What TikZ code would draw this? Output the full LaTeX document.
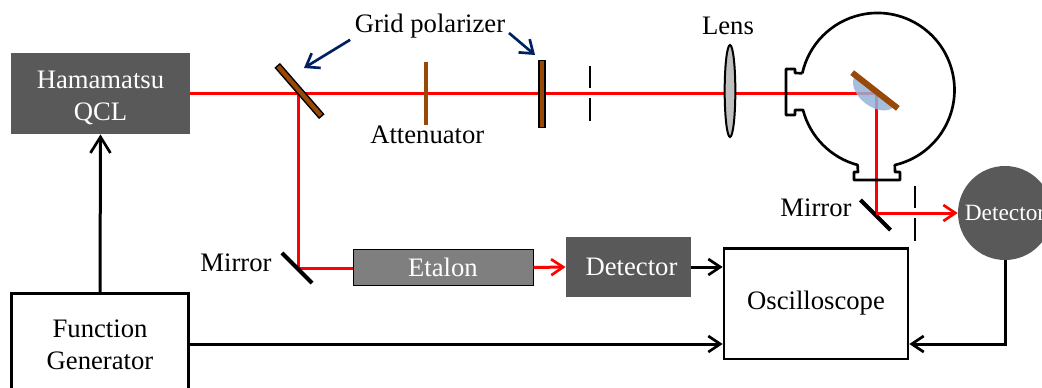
\documentclass[tikz,border=0pt]{standalone}
\usepackage{fontspec}
\setmainfont{Liberation Serif}
\usetikzlibrary{arrows.meta,positioning,shapes.geometric,backgrounds}
\definecolor{darkbox}{HTML}{595959}
\definecolor{midbox}{HTML}{7F7F7F}
\definecolor{brownbar}{HTML}{984807}
\definecolor{navyarrow}{HTML}{002060}
\definecolor{sampleblue}{HTML}{95B3D7}

\begin{document}
\begin{tikzpicture}[
  x=0.75pt, y=0.75pt,
  node distance=6pt,
  font=\fontsize{20}{24}\selectfont,
  solidbox/.style={rectangle, fill=darkbox, text=white, align=center, inner sep=0pt},
  wirebox/.style={rectangle, draw, line width=2pt, fill=white, align=center, inner sep=0pt},
  bar/.style={rectangle, inner sep=0pt, minimum height=#1},
  bar/.default=4.5pt,
  beam/.style={red, line width=2.25pt},
  beamarrow/.style={beam, -{Straight Barb[length=9pt,width=12pt,line width=2pt]}},
  signal/.style={black, line width=2.25pt, -{Straight Barb[length=9pt,width=12pt,line width=2pt]}},
  callout/.style={navyarrow, line width=2pt, -{Straight Barb[length=9pt,width=13pt,line width=2pt]}},
  iris/.style={black, line width=2pt},
]
  \useasboundingbox (0,0) rectangle (1042,387);

  % boxes
  \node[solidbox, minimum width=134pt, minimum height=61pt] (qcl) at (100.5,293.5) {\rule{0pt}{20pt}Hamamatsu\\QCL};
  \node[wirebox, minimum width=133pt, minimum height=73pt] (fgen) at (100,45) {\rule{0pt}{17pt}Function\\Generator};
  \node[wirebox, minimum width=138pt, minimum height=83pt] (scope) at (816,83.5) {Oscilloscope};
  \node[rectangle, draw, fill=midbox, text=white, inner sep=0pt, minimum width=135pt, minimum height=27pt] (etalon) at (443,119.5) {Etalon};
  \node[solidbox, minimum width=94pt, minimum height=45pt] (det1) at (628.5,120) {\hspace*{4.5pt}Detector};
  \node[circle, fill=darkbox, text=white, inner sep=0pt, minimum size=70.5pt, font=\fontsize{17.5}{21}\selectfont] (det2) at (1005,174) {Detector};

  % optics
  \node[bar, draw, line width=1pt, fill=brownbar, minimum width=50pt, rotate=-49] (pol1) at (299.5,296) {};
  \node[bar=47pt, fill=brownbar, minimum width=3pt] (atten) at (426,293.5) {};
  \node[bar, draw, line width=1pt, fill=brownbar, minimum width=50pt, rotate=90] (pol2) at (542,293) {};
  \node[ellipse, draw, line width=1.5pt, fill=black!25, inner sep=0pt, minimum width=8pt, minimum height=69pt] (lens) at (730,296) {};
  \node[bar=3pt, fill=black, minimum width=32pt, rotate=-45] (mirr1) at (297,119) {};
  \node[bar=3pt, fill=black, minimum width=32pt, rotate=-45] (mirr2) at (875.5,172) {};
  \coordinate (turn1) at (298,294);
  \coordinate (turn2) at (298,119);
  \coordinate (focus) at (876,294);
  \coordinate (turn3) at (876,174);

  % labels
  \node (gridlabel) at (430,361) {Grid polarizer};
  \node[below=-2.6pt of atten, xshift=1pt] (attenlabel) {Attenuator};
  \node (lenslabel) at (728,361) {Lens};
  \node (mirrlabel1) at (236,124) {Mirror};
  \node (mirrlabel2) at (816,179) {Mirror};

  % beams go under the optics
  \begin{scope}[on background layer]
    \draw[beam] (qcl.east |- turn1) -- (focus);
    \draw[beam] (turn1) -- (turn2) -- (etalon.west |- turn2);
    \draw[beam] (focus) -- (turn3);
  \end{scope}
  \draw[beamarrow] (etalon.east) -- (det1.west);
  \draw[beamarrow] (turn3) -- (det2.west);

  % iris
  \draw[iris] (590,321) -- (590,299) (590,289) -- (590,266);
  \draw[iris] (915,201) -- (915,179) (915,169) -- (915,146);

  % chamber
  \draw[line width=2pt, line join=round] (802.4,313.7) -- (795,314) -- (795,318) -- (786,318) -- (786,272) -- (795,272) -- (795,277) -- (803,277)
    arc[start angle=194.6, end angle=255, radius=77] -- (858,215) -- (854,215) -- (854,207) -- (900,207) -- (900,215) -- (895,215) -- (894.8,222)
    arc[start angle=283, end angle=527.5, radius=77];
  \fill[sampleblue, opacity=0.85, shift={(875,296.5)}, rotate=-38] (-25,0) arc[start angle=180, end angle=360, x radius=25, y radius=16] -- cycle;
  \node[bar, fill=brownbar, minimum width=43.5pt, rotate=-38] (sample) at (875,296.5) {};

  % signals
  \draw[signal, -{Straight Barb[length=12pt,width=15pt,line width=2pt]}] (fgen.north) -- (qcl.south);
  \draw[signal] (fgen.east |- 0,43) -- (scope.west |- 0,43);
  \draw[signal] (det1.east) -- (scope.west |- det1.east);
  \draw[signal] (det2.south) |- (scope.east |- 0,43);

  % callouts
  \draw[callout] (gridlabel.south west) ++(0,3) -- (304,319);
  \draw[callout] (509,354) -- (535,332);
\end{tikzpicture}
\end{document}
